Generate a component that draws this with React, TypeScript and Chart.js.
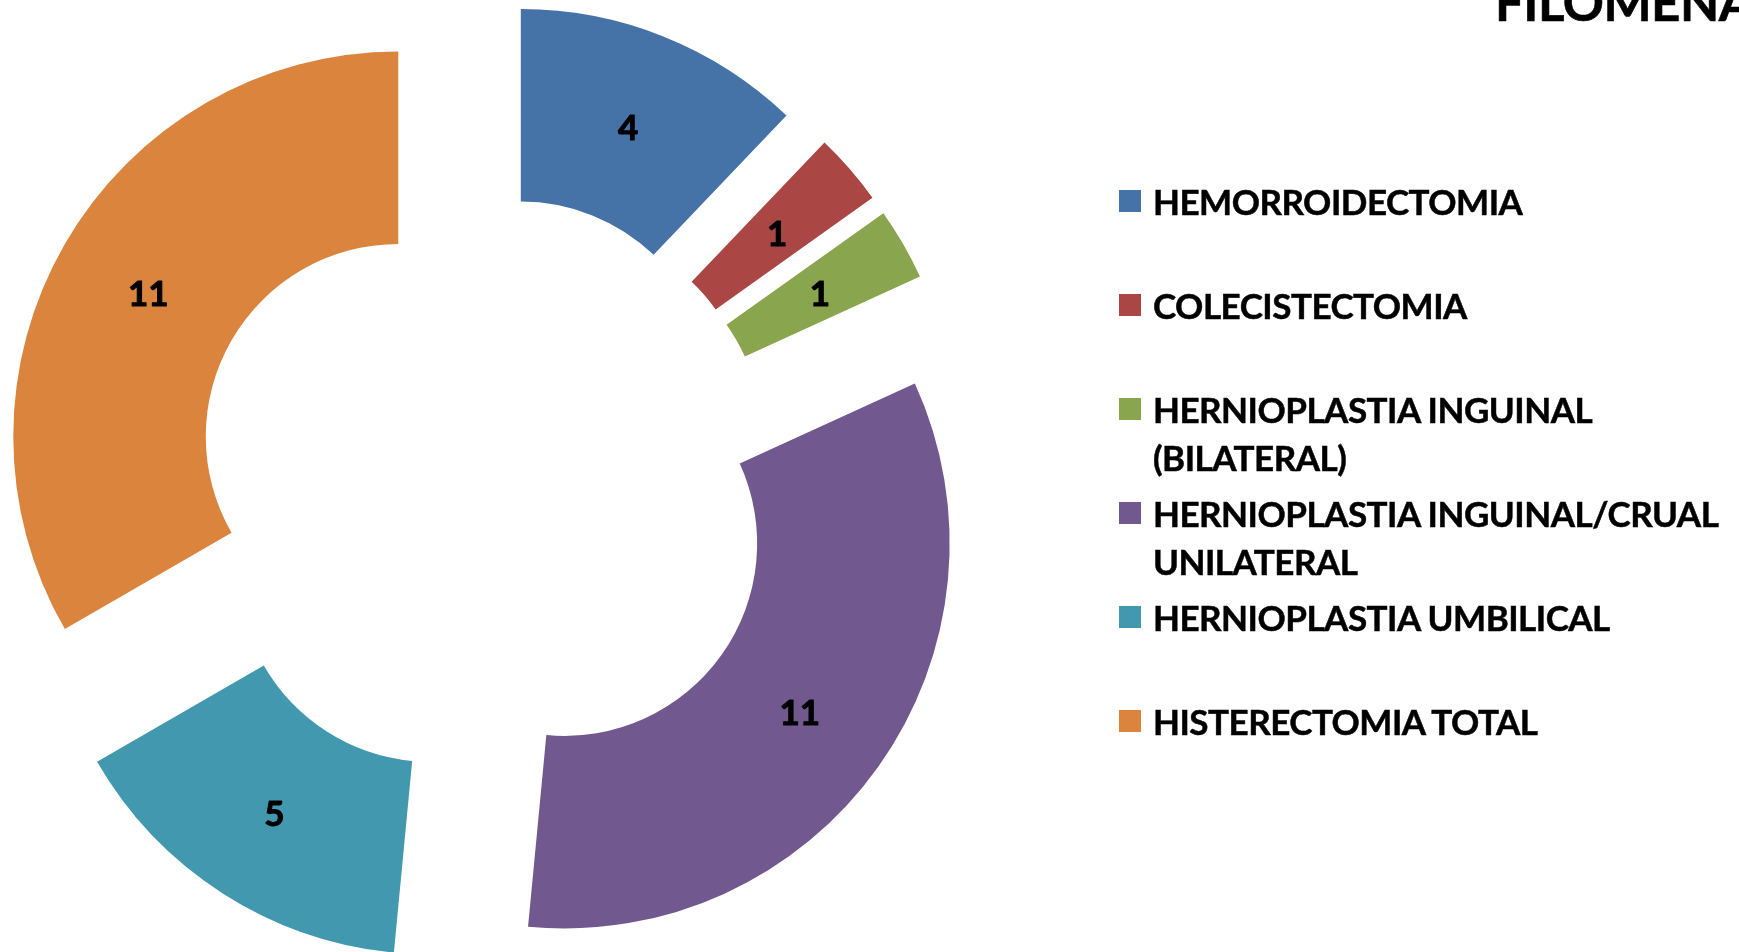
import React, { useEffect, useRef } from 'react';
import { Chart, registerables } from 'chart.js';

Chart.register(...registerables);

// ---- data ----
const categories = [
  'HEMORROIDECTOMIA',
  'COLECISTECTOMIA',
  'HERNIOPLASTIA INGUINAL (BILATERAL)',
  'HERNIOPLASTIA INGUINAL/CRUAL UNILATERAL',
  'HERNIOPLASTIA UMBILICAL',
  'HISTERECTOMIA TOTAL',
];
const legendLines = [
  ['HEMORROIDECTOMIA'],
  ['COLECISTECTOMIA'],
  ['HERNIOPLASTIA INGUINAL', '(BILATERAL)'],
  ['HERNIOPLASTIA INGUINAL/CRUAL', 'UNILATERAL'],
  ['HERNIOPLASTIA UMBILICAL'],
  ['HISTERECTOMIA TOTAL'],
];
const values = [4, 1, 1, 11, 5, 11];
const colors = ['#4572A7', '#AA4643', '#89A54E', '#71588F', '#4198AF', '#DB843D'];
const titleText = 'FILOMENA';

// ---- layout ----
const W = 1739;
const H = 952;
const EXPLODE = 99;
const FONT = 'Lato, "Open Sans", sans-serif';
const LEGEND_LEFT = 1119;
const LEGEND_FIRST_BASELINE = 214.3;
const LEGEND_STEP = 104.1;
const LEGEND_FONT = 35;
const LEGEND_LINE = 48;
const TITLE_FONT = 51;

const explodePlugin = {
  id: 'explode',
  beforeDatasetDraw(chart: any, args: any) {
    const ctx = chart.ctx;
    args.meta.data.forEach((arc: any) => {
      const half = (arc.startAngle + arc.endAngle) / 2;
      ctx.save();
      ctx.translate(Math.cos(half) * EXPLODE, Math.sin(half) * EXPLODE);
      arc.draw(ctx);
      ctx.restore();
    });
    return false;
  },
  afterDatasetsDraw(chart: any) {
    const ctx = chart.ctx;
    const meta = chart.getDatasetMeta(0);
    const data = chart.data.datasets[0].data;
    ctx.save();
    ctx.fillStyle = '#000';
    ctx.strokeStyle = '#000';
    ctx.lineWidth = 1;
    ctx.lineJoin = 'round';
    ctx.font = `bold 35px ${FONT}`;
    ctx.textAlign = 'center';
    ctx.textBaseline = 'middle';
    meta.data.forEach((arc: any, i: number) => {
      const half = (arc.startAngle + arc.endAngle) / 2;
      const p = arc.tooltipPosition(true);
      const x = p.x + Math.cos(half) * EXPLODE;
      const y = p.y + Math.sin(half) * EXPLODE + 3;
      ctx.fillText(String(data[i]), x, y);
      ctx.strokeText(String(data[i]), x, y);
    });
    ctx.restore();
  },
};

export default function App() {
  const ref = useRef<HTMLCanvasElement | null>(null);

  useEffect(() => {
    if (!ref.current) return;
    const chart = new Chart(ref.current, {
      type: 'doughnut',
      data: {
        labels: categories,
        datasets: [
          {
            data: values,
            backgroundColor: colors,
            borderWidth: 0,
            hoverOffset: 0,
            clip: false,
          } as any,
        ],
      },
      options: {
        animation: false,
        responsive: false,
        maintainAspectRatio: false,
        radius: 385,
        cutout: '50%',
        events: [],
        layout: { padding: { left: 0, right: 771, top: 20, bottom: 0 } },
        plugins: {
          legend: { display: false },
          tooltip: { enabled: false },
          title: { display: false },
        },
      } as any,
      plugins: [explodePlugin],
    });
    return () => chart.destroy();
  }, []);

  const ascentOffset = (LEGEND_LINE - LEGEND_FONT * 1.2) / 2 + LEGEND_FONT * 0.987;

  return (
    <div style={{ position: 'fixed', left: 0, top: 0, width: W, height: H, background: '#fff', overflow: 'hidden' }}>
      <canvas ref={ref} width={W} height={H} style={{ position: 'absolute', left: 0, top: 0, width: W, height: H }} />
      <div
        style={{
          position: 'absolute',
          left: 1495,
          top: 21.5 - TITLE_FONT * 0.987 - TITLE_FONT * 0.1,
          font: `bold ${TITLE_FONT}px ${FONT}`,
          lineHeight: `${TITLE_FONT * 1.4}px`,
          letterSpacing: '-0.5px',
          whiteSpace: 'nowrap',
          color: '#000',
          WebkitTextStroke: '0.6px #000',
        }}
      >
        {titleText}
      </div>
      {legendLines.map((lines, i) => {
        const baseline = LEGEND_FIRST_BASELINE + i * LEGEND_STEP;
        return (
          <div
            key={i}
            style={{
              position: 'absolute',
              left: LEGEND_LEFT,
              top: baseline - ascentOffset,
              whiteSpace: 'nowrap',
            }}
          >
            <div
              style={{
                position: 'absolute',
                left: 0,
                top: ascentOffset - 24.3,
                width: 22,
                height: 22,
                background: colors[i],
              }}
            />
            <div
              style={{
                marginLeft: 34,
                font: `bold ${LEGEND_FONT}px ${FONT}`,
                lineHeight: `${LEGEND_LINE}px`,
                letterSpacing: '-0.5px',
                color: '#000',
                WebkitTextStroke: '0.5px #000',
              }}
            >
              {lines.map((l, j) => (
                <div key={j}>{l}</div>
              ))}
            </div>
          </div>
        );
      })}
    </div>
  );
}
